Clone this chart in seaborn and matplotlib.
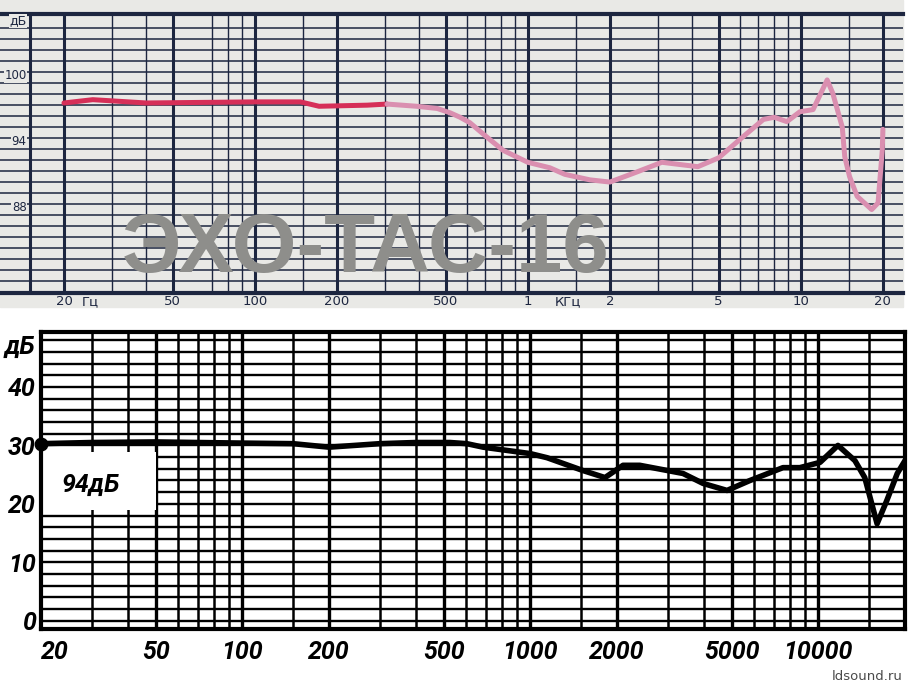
import matplotlib
matplotlib.use("Agg")
import matplotlib.pyplot as plt
import numpy as np
import pandas as pd
import seaborn as sns
from matplotlib.patches import Rectangle

# --- верхний график (ЭХО-ТАС-16), уровень в дБ ---
top_freq = [20, 25.5, 40, 100, 147, 172, 258, 305, 392, 466, 520, 565, 614,
            708, 811, 1000, 1205, 1368, 1690, 2000, 2500, 3100, 3600, 4200,
            5000, 6000, 7300, 8000, 8900, 9930, 11100, 12500, 13100, 14200,
            14500, 15100, 16100, 18200, 19200, 19900, 20000]
top_db = [98.2, 98.5, 98.2, 98.3, 98.3, 97.9, 98.0, 98.1, 97.9, 97.7, 97.3,
          96.9, 96.4, 95.1, 93.9, 92.8, 92.3, 91.7, 91.2, 91.0, 91.9, 92.8,
          92.6, 92.4, 93.2, 94.9, 96.7, 96.9, 96.5, 97.4, 97.6, 100.3, 99.1,
          96.0, 93.3, 91.5, 89.7, 88.5, 89.1, 93.9, 95.8]
top_split = 305  # граница между тёмно-красной и розовой частью линии

top_bold = [15, 20, 50, 100, 200, 500, 1000, 2000, 5000, 10000, 20000]
top_thin = [30, 40, 70, 80, 90, 150, 300, 400, 600, 700, 800, 900, 1500,
            3000, 4000, 6000, 7000, 8000, 9000, 15000]
top_xlabels = ["20", "50", "100", "200", "500", "1", "2", "5", "10", "20"]
top_xlabel_freq = [20, 50, 100, 200, 500, 1000, 2000, 5000, 10000, 20000]
top_ylabels = ["100", "94", "88"]
top_ylabel_db = [100, 94, 88]

# --- нижний график, дБ относительно уровня ---
bot_freq = [20, 30, 50, 70, 100, 150, 200, 300, 400, 526, 602, 686, 1000,
            1143, 1524, 1817, 2099, 2400, 3390, 3980, 4820, 5790, 7540,
            8630, 10140, 11700, 13400, 14500, 16000, 17300, 18800, 20000]
bot_db = [30.3, 30.5, 30.6, 30.5, 30.4, 30.3, 29.7, 30.3, 30.5, 30.5, 30.3,
          29.7, 28.6, 27.9, 25.7, 24.5, 26.6, 26.6, 25.2, 23.5, 22.3, 24.0,
          26.2, 26.2, 27.1, 30.0, 27.4, 24.5, 16.6, 20.6, 25.2, 27.4]
bot_bold = [50, 100, 200, 500, 1000, 2000, 5000, 10000]
bot_thin = [30, 40, 60, 70, 80, 90, 150, 300, 400, 600, 700, 800, 900, 1500,
            3000, 4000, 6000, 7000, 8000, 9000, 15000]
bot_xticks = [20, 50, 100, 200, 500, 1000, 2000, 5000, 10000]
bot_xlabels = ["20", "50", "100", "200", "500", "1000", "2000", "5000", "10000"]
bot_yticks = [0, 10, 20, 30, 40]
bot_ylabels = ["0", "10", "20", "30", "40"]

PAPER = "#e9e9e6"
NAVY = "#1d2640"

sns.set_style("white")
plt.rcParams["font.family"] = ["DejaVu Sans"]

W, H = 911, 689
fig = plt.figure(figsize=(W / 100, H / 100), dpi=100)
fig.patch.set_facecolor("white")
fig.patches.append(Rectangle((0, 1 - 307 / H), 903 / W, 307 / H,
                             transform=fig.transFigure, color=PAPER,
                             zorder=-5))

# ---------------- верх ----------------
ax1 = fig.add_axes([0, 1 - 293 / H, 903 / W, 279 / H])
ax1.set_facecolor(PAPER)
ax1.set_xscale("log")
ax1.set_xlim(11.66, 23700)
ax1.set_ylim(80.9, 106.3)
for f in top_thin:
    ax1.axvline(f, color=NAVY, lw=1.0, zorder=1)
for f in top_bold:
    ax1.axvline(f, color=NAVY, lw=2.2, zorder=1)
for d in np.arange(81, 106):
    ax1.axhline(d, color=NAVY, lw=1.1, zorder=1)

df_top = pd.DataFrame({"f": top_freq, "db": top_db})
lo = df_top[df_top.f <= top_split].assign(part="lo")
hi = df_top[df_top.f >= top_split].assign(part="hi")
sns.lineplot(data=pd.concat([lo, hi]), x="f", y="db", hue="part", sort=False,
             estimator=None, palette={"lo": "#d62f58", "hi": "#da8fb0"},
             lw=3.6, legend=False, ax=ax1, zorder=3)

ax1.set_xticks([]); ax1.set_yticks([])
ax1.minorticks_off()
ax1.set_xlabel(""); ax1.set_ylabel("")
for s in ["left", "right"]:
    ax1.spines[s].set_visible(False)
for s in ["top", "bottom"]:
    ax1.spines[s].set_color(NAVY)
    ax1.spines[s].set_linewidth(3)

tx = ax1.get_xaxis_transform()
for f, lab in zip(top_xlabel_freq, top_xlabels):
    ax1.text(f, -0.03, lab, transform=tx, ha="center", va="center",
             fontsize=9.5, color=NAVY)
ax1.text(40 / 1.6, -0.03, "Гц", transform=tx, ha="center", va="center",
         fontsize=9.5, color=NAVY)
ax1.text(1400, -0.03, "КГц", transform=tx, ha="center", va="center",
         fontsize=9.5, color=NAVY)
for d, lab in zip(top_ylabel_db, top_ylabels):
    ax1.text(14.6, d + 0.1, lab, ha="right", va="bottom", fontsize=8.5,
             color=NAVY, zorder=4,
             bbox=dict(facecolor=PAPER, edgecolor="none", pad=0.3))
ax1.text(14.6, 105.1, "дБ", ha="right", va="bottom", fontsize=9,
         color=NAVY, zorder=4,
         bbox=dict(facecolor=PAPER, edgecolor="none", pad=0.3))

fig.text(366 / W, 1 - 250 / H, "ЭХО-ТАС-16", ha="center", va="center",
         fontsize=60, fontweight="bold", color="#8e8e8b", zorder=10,
         family=["Liberation Sans", "DejaVu Sans"])

# ---------------- низ ----------------
ax2 = fig.add_axes([41 / W, 1 - 629 / H, 864 / W, 297 / H])
ax2.set_facecolor("white")
ax2.set_xscale("log")
ax2.set_xlim(20, 20000)
ax2.set_ylim(-1.4, 49.4)
for f in bot_thin:
    ax2.axvline(f, color="black", lw=1.8, zorder=1)
for f in bot_bold:
    ax2.axvline(f, color="black", lw=2.4, zorder=1)
for d in np.arange(0, 50, 2):
    ax2.axhline(d, color="black", lw=1.7, zorder=1)

# белая табличка с уровнем
ax2.add_patch(Rectangle((20, 18.9), 30, 9.9, facecolor="white",
                        edgecolor="none", zorder=2))
hand = dict(family=["Roboto", "DejaVu Sans"], fontweight="bold",
            style="italic", color="black")
ax2.text(23.5, 23.3, "94дБ", ha="left", va="center", fontsize=18, **hand)

df_bot = pd.DataFrame({"f": bot_freq, "db": bot_db})
sns.lineplot(data=df_bot, x="f", y="db", color="black", lw=4, sort=False,
             estimator=None, ax=ax2, zorder=3)
ax2.plot(bot_freq[:1], bot_db[:1], marker="o", ms=9, color="black",
         clip_on=False, zorder=4)

ax2.minorticks_off()
ax2.set_xticks(bot_xticks)
ax2.set_xticklabels(bot_xlabels, fontsize=18, **hand)
ax2.xaxis.get_majorticklabels()[0].set_horizontalalignment("left")
ax2.set_yticks(bot_yticks)
ax2.set_yticklabels(bot_ylabels, fontsize=18, **hand)
ax2.tick_params(length=0, pad=4)
ax2.tick_params(axis="x", pad=8)
ax2.set_xlabel(""); ax2.set_ylabel("")
for s in ax2.spines.values():
    s.set_color("black")
    s.set_linewidth(3)
ax2.text(-0.006, 46.8, "дБ", transform=ax2.get_yaxis_transform(),
         ha="right", va="center", fontsize=18, **hand)

fig.text(903 / W, 1 - 677 / H, "ldsound.ru", ha="right", va="center",
         fontsize=9.5, color="#4a4a4a")

fig.savefig("out.png", dpi=100)
